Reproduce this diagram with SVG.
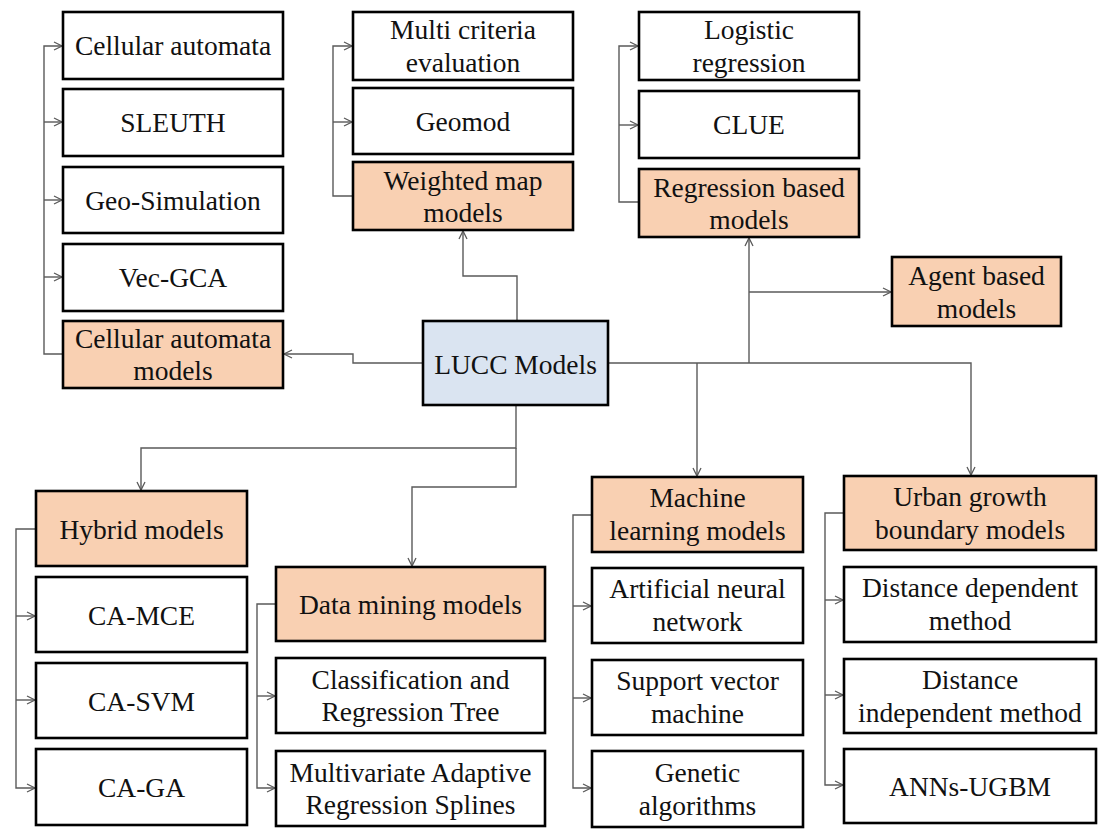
<svg xmlns="http://www.w3.org/2000/svg" width="1102" height="835" viewBox="0 0 1102 835">
  <style>
    .box { fill: #ffffff; stroke: #000000; stroke-width: 2.6; }
    .cat { fill: #f9d0b2; }
    .root { fill: #dae4f1; }
    text { font-family: "Liberation Serif", "Times New Roman", serif; font-size: 27.5px; fill: #111111; text-anchor: middle; }
    .conn path { fill: none; stroke: #5a5a5a; stroke-width: 1.4; }
    .arr { marker-end: url(#arrow); }
  </style>
  <defs>
    <marker id="arrow" markerUnits="userSpaceOnUse" markerWidth="12" markerHeight="12" refX="9" refY="5" orient="auto">
      <path d="M1,1 L9,5 L1,9" fill="none" stroke="#5a5a5a" stroke-width="1.3"/>
    </marker>
  </defs>

  <rect width="1102" height="835" fill="#ffffff"/>

  <!-- connectors -->
  <g id="connectors" class="conn">
    <!-- cellular automata family -->
    <path class="arr" d="M63,354 H44 V46 H62"/>
    <path class="arr" d="M44,122 H62"/>
    <path class="arr" d="M44,200 H62"/>
    <path class="arr" d="M44,277 H62"/>
    <!-- weighted map family -->
    <path class="arr" d="M353,196 H333 V46 H352"/>
    <path class="arr" d="M333,122 H352"/>
    <!-- regression family -->
    <path class="arr" d="M639,202 H619 V46 H638"/>
    <path class="arr" d="M619,125 H638"/>
    <!-- root to categories -->
    <path class="arr" d="M423,363 H353 V354 H284"/>
    <path class="arr" d="M517,321 V276 H463 V231"/>
    <path class="arr" d="M608,363 H971 V475"/>
    <path class="arr" d="M749,363 V238"/>
    <path class="arr" d="M749,292 H891"/>
    <path class="arr" d="M697,363 V476"/>
    <path class="arr" d="M516,405 V448 H141 V490"/>
    <path class="arr" d="M516,448 V487 H412 V566"/>
    <!-- hybrid family -->
    <path class="arr" d="M36,529 H16 V788 H35"/>
    <path class="arr" d="M16,616 H35"/>
    <path class="arr" d="M16,700 H35"/>
    <!-- data mining family -->
    <path class="arr" d="M276,604 H257 V788 H275"/>
    <path class="arr" d="M257,696 H275"/>
    <!-- machine learning family -->
    <path class="arr" d="M592,515 H573 V788 H591"/>
    <path class="arr" d="M573,606 H591"/>
    <path class="arr" d="M573,698 H591"/>
    <!-- urban growth boundary family -->
    <path class="arr" d="M844,513 H825 V785 H843"/>
    <path class="arr" d="M825,600 H843"/>
    <path class="arr" d="M825,695 H843"/>
  </g>

  <!-- root -->
  <g id="n-lucc">
    <rect class="box root" x="423" y="321" width="185" height="84"/>
    <text x="515.5" y="374">LUCC Models</text>
  </g>

  <!-- cellular automata column -->
  <g id="n-cellular-automata">
    <rect class="box" x="63" y="12" width="220" height="67"/>
    <text x="173" y="55">Cellular automata</text>
  </g>
  <g id="n-sleuth">
    <rect class="box" x="63" y="89" width="220" height="67"/>
    <text x="173" y="132">SLEUTH</text>
  </g>
  <g id="n-geo-simulation">
    <rect class="box" x="63" y="167" width="220" height="66"/>
    <text x="173" y="209.5">Geo-Simulation</text>
  </g>
  <g id="n-vec-gca">
    <rect class="box" x="63" y="244" width="220" height="67"/>
    <text x="173" y="287">Vec-GCA</text>
  </g>
  <g id="n-ca-models">
    <rect class="box cat" x="63" y="321" width="220" height="67"/>
    <text x="173" y="348">Cellular automata</text>
    <text x="173" y="380">models</text>
  </g>

  <!-- weighted map column -->
  <g id="n-mce">
    <rect class="box" x="353" y="12" width="220" height="68"/>
    <text x="463" y="39">Multi criteria</text>
    <text x="463" y="71.5">evaluation</text>
  </g>
  <g id="n-geomod">
    <rect class="box" x="353" y="88" width="220" height="66"/>
    <text x="463" y="130.5">Geomod</text>
  </g>
  <g id="n-weighted-map">
    <rect class="box cat" x="353" y="162" width="220" height="68"/>
    <text x="463" y="189.5">Weighted map</text>
    <text x="463" y="222">models</text>
  </g>

  <!-- regression column -->
  <g id="n-logistic">
    <rect class="box" x="639" y="12" width="220" height="68"/>
    <text x="749" y="39">Logistic</text>
    <text x="749" y="71.5">regression</text>
  </g>
  <g id="n-clue">
    <rect class="box" x="639" y="91" width="220" height="67"/>
    <text x="749" y="134">CLUE</text>
  </g>
  <g id="n-regression">
    <rect class="box cat" x="639" y="169" width="220" height="68"/>
    <text x="749" y="196.5">Regression based</text>
    <text x="749" y="229">models</text>
  </g>

  <!-- agent based -->
  <g id="n-agent">
    <rect class="box cat" x="892" y="257" width="169" height="69"/>
    <text x="976.5" y="285">Agent based</text>
    <text x="976.5" y="317.5">models</text>
  </g>

  <!-- hybrid column -->
  <g id="n-hybrid">
    <rect class="box cat" x="36" y="491" width="211" height="75"/>
    <text x="141.5" y="538.5">Hybrid models</text>
  </g>
  <g id="n-ca-mce">
    <rect class="box" x="36" y="577" width="211" height="75"/>
    <text x="141.5" y="624.5">CA-MCE</text>
  </g>
  <g id="n-ca-svm">
    <rect class="box" x="36" y="663" width="211" height="75"/>
    <text x="141.5" y="710.5">CA-SVM</text>
  </g>
  <g id="n-ca-ga">
    <rect class="box" x="36" y="749" width="211" height="76"/>
    <text x="141.5" y="797">CA-GA</text>
  </g>

  <!-- data mining column -->
  <g id="n-data-mining">
    <rect class="box cat" x="276" y="567" width="269" height="74"/>
    <text x="410.5" y="614">Data mining  models</text>
  </g>
  <g id="n-cart">
    <rect class="box" x="276" y="658" width="269" height="75"/>
    <text x="410.5" y="688.5">Classification  and</text>
    <text x="410.5" y="721">Regression  Tree</text>
  </g>
  <g id="n-mars">
    <rect class="box" x="276" y="751" width="269" height="75"/>
    <text x="410.5" y="781.5">Multivariate Adaptive</text>
    <text x="410.5" y="814">Regression  Splines</text>
  </g>

  <!-- machine learning column -->
  <g id="n-machine-learning">
    <rect class="box cat" x="592" y="477" width="211" height="75"/>
    <text x="697.5" y="507">Machine</text>
    <text x="697.5" y="540">learning models</text>
  </g>
  <g id="n-ann">
    <rect class="box" x="592" y="568" width="211" height="75"/>
    <text x="697.5" y="598">Artificial neural</text>
    <text x="697.5" y="631">network</text>
  </g>
  <g id="n-svm">
    <rect class="box" x="592" y="660" width="211" height="75"/>
    <text x="697.5" y="690">Support vector</text>
    <text x="697.5" y="723">machine</text>
  </g>
  <g id="n-genetic">
    <rect class="box" x="592" y="751" width="211" height="76"/>
    <text x="697.5" y="781.5">Genetic</text>
    <text x="697.5" y="814.5">algorithms</text>
  </g>

  <!-- urban growth boundary column -->
  <g id="n-ugb">
    <rect class="box cat" x="844" y="476" width="252" height="74"/>
    <text x="970" y="505.5">Urban growth</text>
    <text x="970" y="538.5">boundary models</text>
  </g>
  <g id="n-distance-dependent">
    <rect class="box" x="844" y="567" width="252" height="75"/>
    <text x="970" y="597">Distance dependent</text>
    <text x="970" y="630">method</text>
  </g>
  <g id="n-distance-independent">
    <rect class="box" x="844" y="659" width="252" height="74"/>
    <text x="970" y="688.5">Distance</text>
    <text x="970" y="721.5">independent method</text>
  </g>
  <g id="n-anns-ugbm">
    <rect class="box" x="844" y="749" width="252" height="74"/>
    <text x="970" y="796">ANNs-UGBM</text>
  </g>
</svg>
